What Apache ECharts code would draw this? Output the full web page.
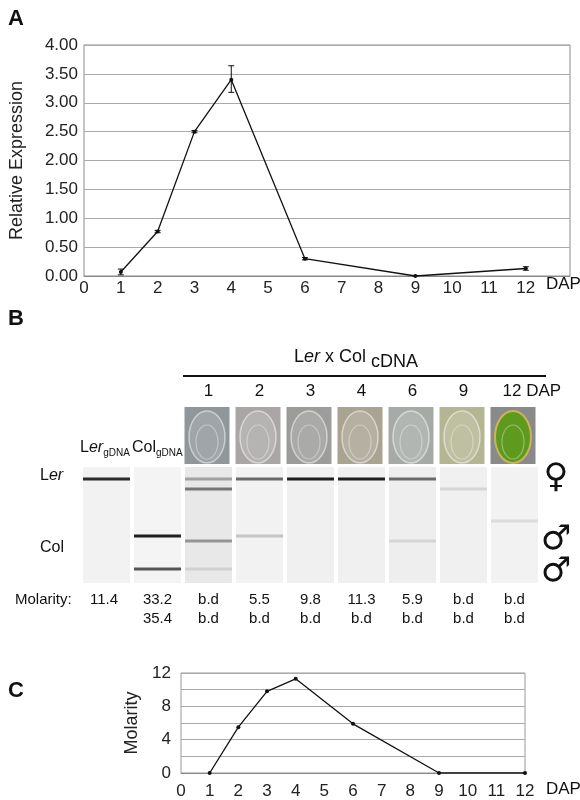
<!DOCTYPE html>
<html><head><meta charset="utf-8">
<script src="https://cdn.jsdelivr.net/npm/echarts@6/dist/echarts.min.js"></script>
<style>html,body{margin:0;padding:0;background:#fff}#c{width:580px;height:800px}</style>
</head><body><div id="c"></div>
<script>
// Panel A
const dapA = [1, 2, 3, 4, 6, 9, 12];
const exprA = [0.07, 0.77, 2.50, 3.40, 0.30, 0.00, 0.13];
const errLowA = [0.02, 0.75, 2.48, 3.18, 0.28, 0.00, 0.10];
const errHighA = [0.12, 0.79, 2.52, 3.64, 0.32, 0.01, 0.16];
// Panel B
const laneDAP = ['1', '2', '3', '4', '6', '9', '12 DAP'];
const molarityRow1 = ['11.4', '33.2', 'b.d', '5.5', '9.8', '11.3', '5.9', 'b.d', 'b.d'];
const molarityRow2 = ['', '35.4', 'b.d', 'b.d', 'b.d', 'b.d', 'b.d', 'b.d', 'b.d'];
// bands: [lane, position (px from gel top), intensity]
const bands = [[0,12,0.9],[1,69,0.95],[1,102,0.7],[2,12,0.35],[2,22,0.55],[2,74,0.4],[2,102,0.12],
  [3,12,0.6],[3,69,0.18],[4,12,0.95],[5,12,0.95],[6,12,0.6],[6,74,0.1],[7,22,0.1],[8,54,0.07]];
const laneShade = [0.03, 0.02, 0.08, 0.03, 0.04, 0.04, 0.05, 0.04, 0.03];
const photoColors = ['#8f979a','#aaa6a6','#9c9c9a','#aaa392','#a5aaa6','#b4b592','#5f9a22'];
// Panel C
const dapC = [1, 2, 3, 4, 6, 9, 12];
const molC = [0, 5.5, 9.8, 11.3, 5.9, 0, 0];

const F = 'Liberation Sans, Arial, sans-serif';
const chart = echarts.init(document.getElementById('c'));
const graphic = [];
function txt(x, y, t, size, opt) {
  graphic.push(Object.assign({type:'text', x, y, style:Object.assign({text:t, font:(size||16)+'px '+F, fill:'#111'}, (opt||{}))}));
}
txt(8, 8, 'A', 22, {font:'bold 22px '+F});
txt(8, 308, 'B', 22, {font:'bold 22px '+F});
txt(8, 680, 'C', 22, {font:'bold 22px '+F});
txt(546, 276, 'DAP', 17);
txt(546, 781, 'DAP', 17);
// panel B texts
graphic.push({type:'text', x:356, y:343, style:{text:'{n|L}{i|er}{n| x Col }{s|cDNA}', align:'center', rich:{
  n:{font:'18px '+F, fill:'#111'}, i:{font:'italic 18px '+F, fill:'#111'}, s:{font:'18px '+F, fill:'#111', padding:[10,0,0,0]}}}});
graphic.push({type:'line', shape:{x1:183, y1:376, x2:546, y2:376}, style:{stroke:'#111', lineWidth:2}});
const laneC = i => 81 + 51*i + 25.5;
laneDAP.forEach((t,k)=>{ const i=k+2; txt(k===6? laneC(i)-12 : laneC(i), 383, t, 17, {align: k===6?'left':'center'}); });
photoColors.forEach((c,k)=>{ const x=81+51*(k+2)+1.5;
  graphic.push({type:'rect', shape:{x, y:407, width:45, height:57}, style:{fill: k===6?'#8a8a8a':c}});
  graphic.push({type:'ellipse', shape:{cx:x+22.5, cy:437, rx:18, ry:26}, style:{fill: k===6?'#5e9a1e':'rgba(255,255,255,0.15)', stroke: k===6?'#c8b45a':'rgba(255,255,255,0.5)', lineWidth: k===6?2:1.5}});
  graphic.push({type:'ellipse', shape:{cx:x+22.5, cy:442, rx:11, ry:17}, style:{fill:'none', stroke:'rgba(255,255,255,0.35)', lineWidth:1.2}});
});
graphic.push({type:'text', x:80, y:438, style:{text:'{n|L}{i|er}{s|gDNA}', rich:{n:{font:'16px '+F, fill:'#111'}, i:{font:'italic 16px '+F, fill:'#111'}, s:{font:'10px '+F, fill:'#111', padding:[10,0,0,0]}}}});
graphic.push({type:'text', x:132, y:438, style:{text:'{n|Col}{s|gDNA}', rich:{n:{font:'16px '+F, fill:'#111'}, s:{font:'10px '+F, fill:'#111', padding:[10,0,0,0]}}}});
graphic.push({type:'text', x:40, y:468, style:{text:'{n|L}{i|er}', rich:{n:{font:'16px '+F, fill:'#111'}, i:{font:'italic 16px '+F, fill:'#111'}}}});
txt(40, 540, 'Col', 16);
const SF = 'DejaVu Sans, sans-serif';
txt(556, 478, '♀', 34, {font:'34px '+SF, align:'center', verticalAlign:'middle'});
txt(556, 540, '♂', 34, {font:'34px '+SF, align:'center', verticalAlign:'middle'});
txt(556, 572, '♂', 34, {font:'34px '+SF, align:'center', verticalAlign:'middle'});
txt(15, 592, 'Molarity:', 15);
molarityRow1.forEach((t,i)=>{ if(i>0) txt(laneC(i), 592, t, 15, {align:'center'}); });
txt(104, 592, molarityRow1[0], 15, {align:'center'});
molarityRow2.forEach((t,i)=>{ if(t) txt(laneC(i), 611, t, 15, {align:'center'}); });

const axisTxt = {color:'#222', fontSize:17, fontFamily:F};
chart.setOption({
  animation:false,
  graphic,
  grid:[
    {left:80, top:45, width:490, height:231, show:true, borderColor:'#8a8a8a', borderWidth:1},
    {left:81, top:467, width:459, height:116},
    {left:181, top:673, width:344, height:100, show:true, borderColor:'#999', borderWidth:1}
  ],
  xAxis:[
    {gridIndex:0, type:'value', min:0, max:13.2, interval:1, axisLine:{lineStyle:{color:'#888'}}, axisTick:{show:false}, splitLine:{show:false},
     axisLabel:Object.assign({}, axisTxt, {formatter:v=> v<=12 && Number.isInteger(v) ? String(v) : '', showMaxLabel:false, margin:4})},
    {gridIndex:1, type:'value', min:0, max:9, show:false},
    {gridIndex:2, type:'value', min:0, max:12, interval:1, axisLine:{lineStyle:{color:'#888'}}, axisTick:{show:false}, splitLine:{show:false},
     axisLabel:Object.assign({}, axisTxt, {margin:10})}
  ],
  yAxis:[
    {gridIndex:0, type:'value', min:0, max:4, interval:0.5, name:'Relative Expression', nameLocation:'middle', nameGap:58, nameTextStyle:{fontSize:18, fontFamily:F, color:'#222'},
     axisLine:{show:false}, axisTick:{show:false}, splitLine:{lineStyle:{color:'#aaa'}}, axisLabel:Object.assign({}, axisTxt, {formatter:v=>v.toFixed(2), margin:6})},
    {gridIndex:1, type:'value', min:0, max:116, inverse:true, show:false},
    {gridIndex:2, type:'value', min:0, max:12, interval:2, name:'Molarity', nameLocation:'middle', nameGap:28, nameTextStyle:{fontSize:18, fontFamily:F, color:'#222'},
     axisLine:{show:false}, axisTick:{show:false}, splitLine:{lineStyle:{color:'#aaa'}}, axisLabel:Object.assign({}, axisTxt, {formatter:v=> v%4===0 ? String(v) : '', margin:10})}
  ],
  series:[
    {type:'line', xAxisIndex:0, yAxisIndex:0, data:dapA.map((d,i)=>[d, exprA[i]]), symbol:'circle', symbolSize:4, itemStyle:{color:'#111'}, lineStyle:{color:'#111', width:1.3}},
    {type:'custom', xAxisIndex:0, yAxisIndex:0, data:dapA.map((d,i)=>[d, errLowA[i], errHighA[i]]),
     renderItem:(p,api)=>{ const lo=api.coord([api.value(0),api.value(1)]), hi=api.coord([api.value(0),api.value(2)]);
       const s={stroke:'#111', lineWidth:1};
       return {type:'group', children:[
         {type:'line', shape:{x1:lo[0],y1:lo[1],x2:hi[0],y2:hi[1]}, style:s},
         {type:'line', shape:{x1:lo[0]-3,y1:lo[1],x2:lo[0]+3,y2:lo[1]}, style:s},
         {type:'line', shape:{x1:hi[0]-3,y1:hi[1],x2:hi[0]+3,y2:hi[1]}, style:s}]}; }},
    {type:'custom', xAxisIndex:1, yAxisIndex:1, data:laneShade.map((v,i)=>[i,v]),
     renderItem:(p,api)=>{ const a=api.coord([api.value(0)+0.04,0]), b=api.coord([api.value(0)+0.96,116]);
       const g=Math.round(248-api.value(1)*200);
       return {type:'rect', shape:{x:a[0], y:a[1], width:b[0]-a[0], height:b[1]-a[1]}, style:{fill:`rgb(${g},${g},${g})`}}; }},
    {type:'custom', xAxisIndex:1, yAxisIndex:1, data:bands, z:3,
     renderItem:(p,api)=>{ const a=api.coord([api.value(0)+0.04,api.value(1)-1.5]), b=api.coord([api.value(0)+0.96,api.value(1)+1.5]);
       const g=Math.round(235-api.value(2)*215);
       return {type:'rect', shape:{x:a[0], y:a[1], width:b[0]-a[0], height:b[1]-a[1]}, style:{fill:`rgb(${g},${g},${g})`}}; }},
    {type:'line', xAxisIndex:2, yAxisIndex:2, data:dapC.map((d,i)=>[d, molC[i]]), symbol:'circle', symbolSize:4, itemStyle:{color:'#111'}, lineStyle:{color:'#111', width:1.3}}
  ]
});
</script></body></html>
